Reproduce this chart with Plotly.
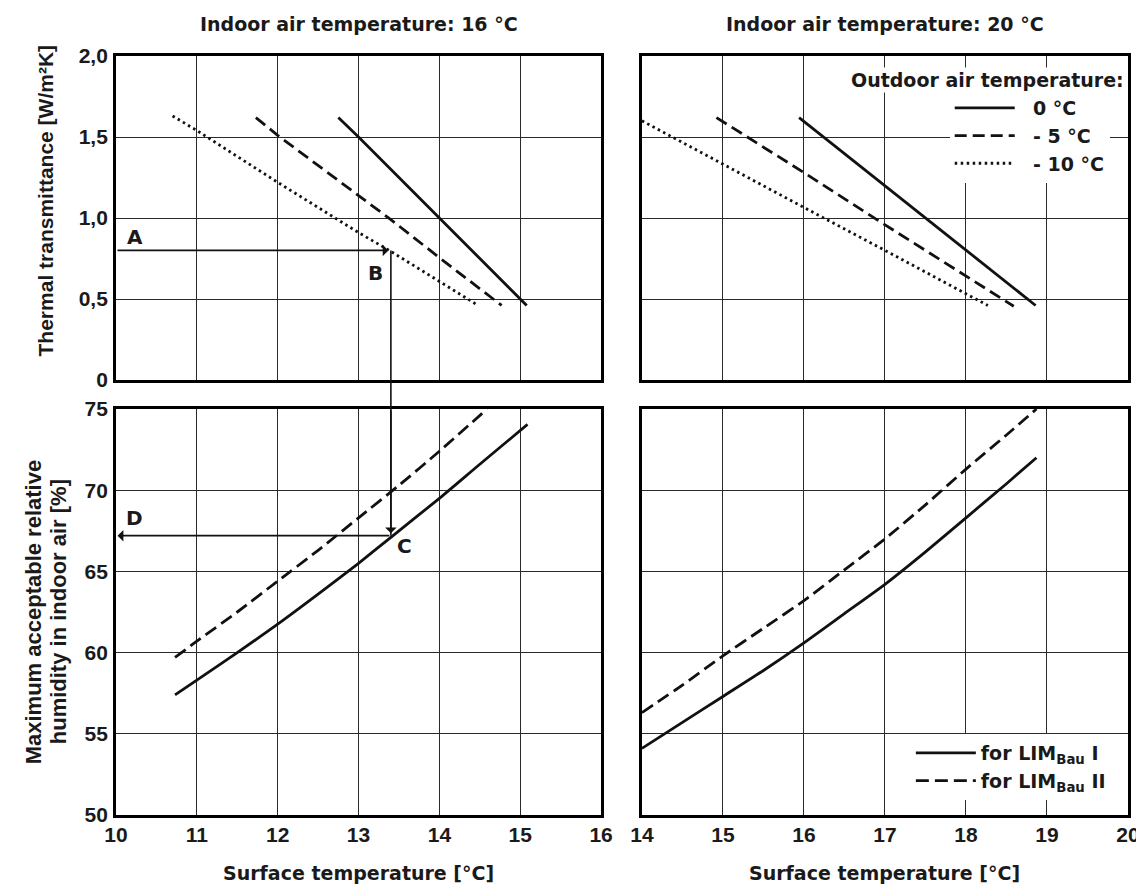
import plotly.graph_objects as go

# ---------------- data ----------------
# top-left: indoor 16 °C, thermal transmittance vs surface temperature
t16_x_0 = [12.75, 13.0, 14.0, 15.0, 15.08]
t16_y_0 = [1.62, 1.50, 1.00, 0.50, 0.46]
t16_x_5 = [11.73, 12.0, 13.4, 14.0, 14.77]
t16_y_5 = [1.62, 1.51, 0.99, 0.755, 0.46]
t16_x_10 = [10.7, 11.0, 12.0, 13.0, 13.38, 14.0, 14.48]
t16_y_10 = [1.63, 1.54, 1.22, 0.91, 0.80, 0.61, 0.46]

# top-right: indoor 20 °C
t20_x_0 = [15.94, 17.0, 17.52, 18.0, 18.73, 18.86]
t20_y_0 = [1.62, 1.20, 0.99, 0.80, 0.51, 0.46]
t20_x_5 = [14.92, 16.0, 16.93, 18.0, 18.46, 18.59]
t20_y_5 = [1.62, 1.28, 0.98, 0.645, 0.50, 0.455]
t20_x_10 = [14.0, 15.0, 16.0, 17.0, 18.0, 18.27]
t20_y_10 = [1.60, 1.33, 1.065, 0.80, 0.53, 0.46]

# bottom-left: max relative humidity, indoor 16 °C
b16_x_I = [10.73, 11.0, 11.5, 12.0, 12.5, 13.0, 13.4, 14.0, 14.5, 15.09]
b16_y_I = [57.4, 58.3, 60.0, 61.75, 63.6, 65.5, 67.1, 69.5, 71.6, 74.05]
b16_x_II = [10.73, 11.0, 11.5, 12.0, 12.5, 13.0, 13.5, 14.0, 14.59]
b16_y_II = [59.7, 60.7, 62.5, 64.4, 66.3, 68.3, 70.3, 72.4, 75.0]

# bottom-right: indoor 20 °C
b20_x_I = [14.0, 14.5, 15.0, 15.5, 16.0, 16.5, 17.0, 17.5, 18.0, 18.5, 18.87]
b20_y_I = [54.1, 55.7, 57.3, 58.9, 60.6, 62.4, 64.2, 66.2, 68.3, 70.4, 72.0]
b20_x_II = [14.0, 14.5, 15.0, 15.5, 16.0, 16.5, 17.0, 17.5, 18.0, 18.5, 18.87]
b20_y_II = [56.3, 58.0, 59.8, 61.5, 63.2, 65.1, 67.0, 69.1, 71.3, 73.4, 75.0]

# worked example A -> B -> C -> D
ex_x_A = 10.0
ex_y_A = 0.8
ex_x_B = 13.4
ex_y_C = 67.2

outdoor_names = ["0 °C", "- 5 °C", "- 10 °C"]
lim_names = ["for LIM<sub>Bau</sub> I", "for LIM<sub>Bau</sub> II"]

x16_ticks = [10, 11, 12, 13, 14, 15, 16]
x20_ticks = [14, 15, 16, 17, 18, 19, 20]
u_ticks = [0, 0.5, 1.0, 1.5, 2.0]
u_ticktext = ["0", "0,5", "1,0", "1,5", "2,0"]
rh_ticks = [50, 55, 60, 65, 70, 75]

# ---------------- layout helpers ----------------
W, H = 1144, 886
ML, MR, MT, MB = 108, 20, 48, 79
PW, PH = W - ML - MR, H - MT - MB

def xdom(a, b):
    return [(a - ML) / PW, (b - ML) / PW]

def ydom(top, bot):
    return [(H - MB - bot) / PH, (H - MB - top) / PH]

XL = xdom(108, 595)
XR = xdom(636, 1124)
YT = ydom(48, 372)
YB = ydom(401, 807)
R16, R20, RU, RRH = [10, 16], [14, 20], [0, 2], [50, 75]

def to_paper(v, rng, dom):
    return dom[0] + (v - rng[0]) / (rng[1] - rng[0]) * (dom[1] - dom[0])

WIDE = "DejaVu Sans, Verdana, sans-serif"
NARROW = "Liberation Sans, Arial, sans-serif"
TXT = "#1a1a1a"
LC = "#111111"

def f(fam, size):
    return dict(family=fam, size=size, color=TXT, weight="bold")

fig = go.Figure()

dash_styles = [None, "12px,6px", "2.5px,3.5px"]
top_sets = [
    ("x", "y", [(t16_x_0, t16_y_0), (t16_x_5, t16_y_5), (t16_x_10, t16_y_10)], False),
    ("x2", "y2", [(t20_x_0, t20_y_0), (t20_x_5, t20_y_5), (t20_x_10, t20_y_10)], True),
]
for xa, ya, series, show in top_sets:
    for (xs, ys), nm, ds in zip(series, outdoor_names, dash_styles):
        line = dict(color=LC, width=2.8)
        if ds:
            line["dash"] = ds
        fig.add_trace(go.Scatter(x=xs, y=ys, xaxis=xa, yaxis=ya, mode="lines",
                                 line=line, name="\u00a0\u00a0" + nm, showlegend=show,
                                 legend="legend", hoverinfo="skip"))

bot_sets = [
    ("x3", "y3", [(b16_x_I, b16_y_I), (b16_x_II, b16_y_II)], False),
    ("x4", "y4", [(b20_x_I, b20_y_I), (b20_x_II, b20_y_II)], True),
]
for xa, ya, series, show in bot_sets:
    for (xs, ys), nm, ds in zip(series, lim_names, [None, "13px,6px"]):
        line = dict(color=LC, width=2.8, shape="spline", smoothing=0.6)
        if ds:
            line["dash"] = ds
        fig.add_trace(go.Scatter(x=xs, y=ys, xaxis=xa, yaxis=ya, mode="lines",
                                 line=line, name=nm, showlegend=show,
                                 legend="legend2", hoverinfo="skip"))

tickfont = f(NARROW, 21)

def axis_common(**kw):
    d = dict(showgrid=True, gridcolor="#2a2a2a", gridwidth=1.4,
             showline=True, linecolor="#000", linewidth=2.8, mirror=True,
             zeroline=False, ticks="", tickfont=tickfont, fixedrange=True)
    d.update(kw)
    return d

fig.update_layout(
    xaxis=axis_common(domain=XL, anchor="y", range=R16, tickvals=x16_ticks, showticklabels=False),
    yaxis=axis_common(domain=YT, anchor="x", range=RU, tickvals=u_ticks, ticktext=u_ticktext,
                      ticklabelstandoff=1),
    xaxis2=axis_common(domain=XR, anchor="y2", range=R20, tickvals=x20_ticks, showticklabels=False),
    yaxis2=axis_common(domain=YT, anchor="x2", range=RU, tickvals=u_ticks, showticklabels=False),
    xaxis3=axis_common(domain=XL, anchor="y3", range=R16, tickvals=x16_ticks, ticklabelstandoff=-1),
    yaxis3=axis_common(domain=YB, anchor="x3", range=RRH, tickvals=rh_ticks, ticklabelstandoff=1),
    xaxis4=axis_common(domain=XR, anchor="y4", range=R20, tickvals=x20_ticks, ticklabelstandoff=-1),
    yaxis4=axis_common(domain=YB, anchor="x4", range=RRH, tickvals=rh_ticks, showticklabels=False),
)

legfont = f(WIDE, 19)
fig.update_layout(
    width=W, height=H,
    margin=dict(l=ML, r=MR, t=MT, b=MB, pad=0),
    paper_bgcolor="white", plot_bgcolor="white",
    font=dict(family=WIDE, color=TXT),
    legend=dict(x=(945 - ML) / PW, y=(H - MB - 81) / PH, xanchor="left", yanchor="top",
                bgcolor="white", font=legfont, itemwidth=60, tracegroupgap=0,
                borderwidth=0, traceorder="normal"),
    legend2=dict(x=(906 - ML) / PW, y=(H - MB - 726) / PH, xanchor="left", yanchor="top",
                 bgcolor="white", font=legfont, itemwidth=60, tracegroupgap=0,
                 borderwidth=0, traceorder="normal"),
)

ann = []
# panel titles
for xa, t in [("x", "Indoor air temperature: 16 °C"), ("x2", "Indoor air temperature: 20 °C")]:
    ann.append(dict(text=t, xref=xa + " domain", x=0.5, yref="paper", y=1, yanchor="middle",
                    yshift=32, showarrow=False, font=f(WIDE, 19)))
# legend title
ann.append(dict(text="Outdoor air temperature:", xref="x2", x=16.55, yref="y2", y=1.85,
                xanchor="left", yanchor="middle", showarrow=False, bgcolor="white",
                font=f(WIDE, 19)))
# y-axis titles
ann.append(dict(text="Thermal transmittance [W/m²K]", xref="paper", x=(37 - ML) / PW,
                yref="y domain", y=0.555, textangle=-90, showarrow=False,
                xanchor="center", yanchor="middle", font=f(NARROW, 21)))
ann.append(dict(text="Maximum acceptable relative",
                xref="paper", x=(25 - ML) / PW, yref="y3 domain", y=0.5, textangle=-90,
                showarrow=False, xanchor="center", yanchor="middle", font=f(NARROW, 22)))
ann.append(dict(text="humidity in indoor air [%]",
                xref="paper", x=(50 - ML) / PW, yref="y3 domain", y=0.5, textangle=-90,
                showarrow=False, xanchor="center", yanchor="middle", font=f(NARROW, 22)))
# x-axis titles
for xa in ["x3", "x4"]:
    ann.append(dict(text="Surface temperature [°C]", xref=xa + " domain", x=0.5,
                    yref="paper", y=0, yanchor="middle", yshift=-58, showarrow=False,
                    font=f(WIDE, 19)))

# example arrows
ann.append(dict(x=ex_x_B - 0.03, y=ex_y_A, ax=ex_x_A, ay=ex_y_A, xref="x", yref="y",
                axref="x", ayref="y", showarrow=True, arrowhead=1, arrowsize=1.2,
                arrowwidth=1.6, arrowcolor=LC, text=""))
ann.append(dict(x=ex_x_B, y=ex_y_C + 0.15, ax=ex_x_B, ay=RRH[1], xref="x3", yref="y3",
                axref="x3", ayref="y3", showarrow=True, arrowhead=1, arrowsize=1.2,
                arrowwidth=1.6, arrowcolor=LC, text=""))
ann.append(dict(x=ex_x_A + 0.02, y=ex_y_C, ax=ex_x_B, ay=ex_y_C, xref="x3", yref="y3",
                axref="x3", ayref="y3", showarrow=True, arrowhead=1, arrowsize=1.2,
                arrowwidth=1.6, arrowcolor=LC, text=""))
# letters
lab_font = f(WIDE, 20)
for t, xa, ya, xv, yv in [("A", "x", "y", 10.23, 0.88), ("B", "x", "y", 13.21, 0.66),
                          ("C", "x3", "y3", 13.57, 66.55), ("D", "x3", "y3", 10.23, 68.3)]:
    ann.append(dict(text=t, xref=xa, yref=ya, x=xv, y=yv, showarrow=False, font=lab_font))

fig.update_layout(annotations=ann)

# vertical guide B -> C across both panels
fig.add_shape(type="line", xref="x", yref="paper", x0=ex_x_B, x1=ex_x_B,
              y0=to_paper(ex_y_A, RU, YT), y1=to_paper(ex_y_C, RRH, YB),
              line=dict(color=LC, width=1.6), layer="above")

fig.write_html("out.html")
